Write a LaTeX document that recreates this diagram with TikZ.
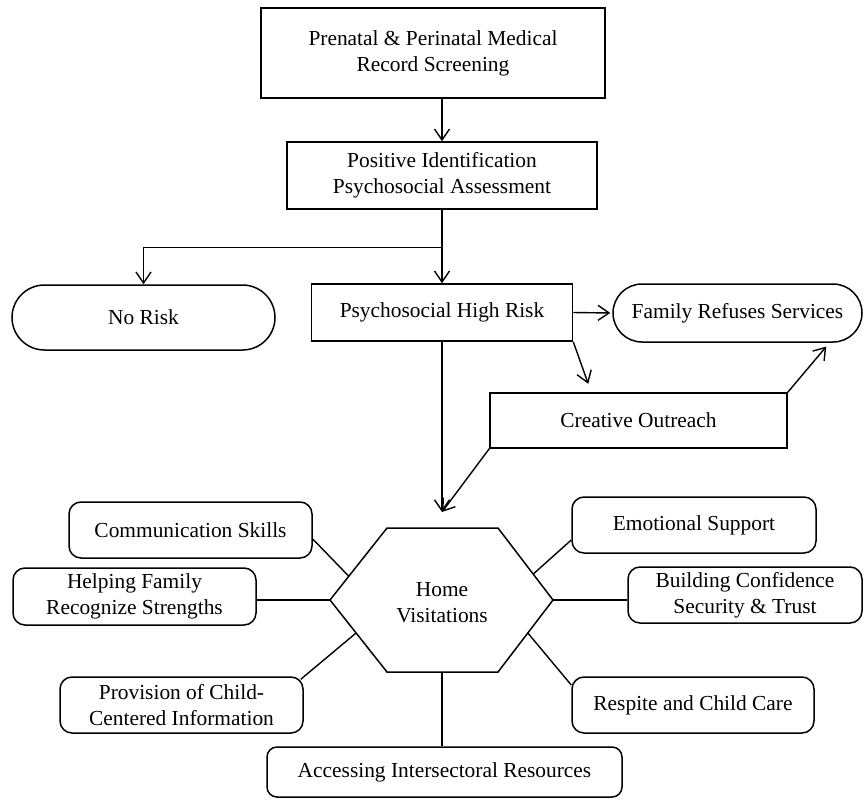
\documentclass[tikz,border=0pt]{standalone}
\usepackage{fontspec}
\setmainfont{Liberation Serif}
\usetikzlibrary{arrows.meta,shapes.misc,calc}

\begin{document}
\begin{tikzpicture}[x=1pt,y=-1pt,
  every node/.style={font=\fontsize{21.4}{26}\selectfont, align=center, inner sep=0pt},
  plainbox/.style={draw, line width=1.5pt},
  roundbox/.style={draw, line width=1.5pt, rounded corners=12pt, minimum height=56pt},
  pill/.style={draw, line width=1.5pt, rounded rectangle},
  link/.style={line width=1.4pt},
  flow/.style={link, -{Straight Barb[length=11pt,width=15pt,line width=1.4pt]}}
]
\useasboundingbox (0,0) rectangle (865,801);

% screening and assessment
\node[plainbox, minimum width=344pt, minimum height=90pt] (top) at (433,53)
  {Prenatal \& Perinatal Medical\\Record Screening};
\node[plainbox, minimum width=310pt, minimum height=67pt] (assess) at (442,175.5)
  {Positive Identification\\Psychosocial Assessment};

% risk outcomes
\node[pill, minimum width=263pt, minimum height=65pt] (norisk) at (143.5,317.5) {No Risk};
\node[plainbox, minimum width=261pt, minimum height=57pt] (high) at (442,312.5) {Psychosocial High Risk};
\node[pill, minimum width=249pt, minimum height=58pt] (family) at (737.5,313) {Family Refuses Services};
\node[plainbox, minimum width=297pt, minimum height=55pt] (outreach) at (638.5,420.5) {Creative Outreach};

% home visitations hexagon
\coordinate (hW) at (330,600);
\coordinate (hNW) at (387,528);
\coordinate (hNE) at (498,528);
\coordinate (hE) at (553,600);
\coordinate (hSE) at (498,672);
\coordinate (hSW) at (387,672);
\draw[line width=1.5pt] (hW) -- (hNW) -- (hNE) -- (hE) -- (hSE) -- (hSW) -- cycle;
\node (hv) at (442,603) {Home\\Visitations};
\coordinate (hS) at (442,672);
\coordinate (hin) at (442,512);

% service components
\node[roundbox, minimum width=243pt] (comm) at (190.5,530) {Communication Skills};
\node[roundbox, minimum width=243pt, minimum height=57pt] (help) at (134.5,596.5)
  {Helping Family\\Recognize Strengths};
\node[roundbox, minimum width=243pt] (prov) at (181.5,705)
  {Provision of Child-\\Centered Information};
\node[roundbox, minimum width=355pt, minimum height=50pt, rounded corners=10pt] (access) at (444.5,772)
  {Accessing Intersectoral Resources};
\node[roundbox, minimum width=244pt] (emo) at (694,525) {Emotional Support};
\node[roundbox, minimum width=234pt] (build) at (745,595)
  {Building Confidence\\Security \& Trust};
\node[roundbox, minimum width=242pt] (resp) at (693,705) {Respite and Child Care};

% flow arrows
\draw[flow] (top.south -| assess.north) -- (assess.north);
\coordinate (split) at ($(assess.south)+(0,38)$);
\draw[link] (assess.south) -- (split);
\draw[flow] (split) -| (norisk.north);
\draw[flow] (split) -- (high.north);
\draw[flow, shorten >=2pt] (high.east) -- (family.west);
\draw[flow, shorten >=9pt] (high.south east) -- ($(outreach.north west)+(102,0)$);
\draw[flow, shorten >=5pt] (outreach.north east) -- ($(family.south)+(92,0)$);
\draw[flow] (high.south) -- (hin);
\draw[flow] (outreach.south west) -- (hin);

% spokes
\draw[link] ($(comm.east)+(0,9)$) -- ($(hW)!0.33!(hNW)$);
\draw[link] (hW -| help.east) -- (hW);
\draw[link] ($(prov.north east)+(-3,3)$) -- ($(hW)!0.458!(hSW)$);
\draw[link] (hS) -- (hS |- access.north);
\draw[link] ($(emo.west)+(0,15)$) -- ($(hNE)!0.64!(hE)$);
\draw[link] (hE) -- (hE -| build.west);
\draw[link] ($(resp.west)+(0,-20)$) -- ($(hE)!0.458!(hSE)$);
\end{tikzpicture}
\end{document}
